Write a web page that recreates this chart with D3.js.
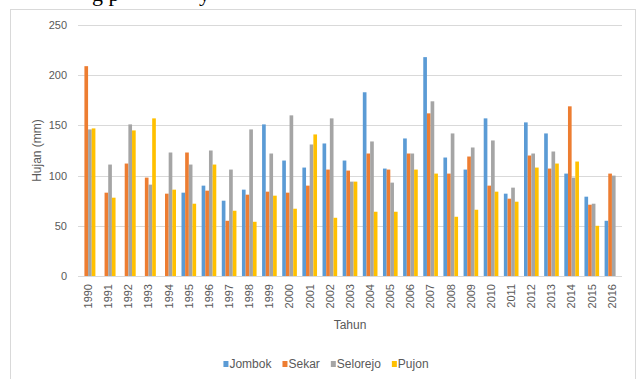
<!DOCTYPE html>
<html>
<head>
<meta charset="utf-8">
<script src="https://cdn.jsdelivr.net/npm/d3@7/dist/d3.min.js"></script>
<style>
  html, body { margin: 0; padding: 0; background: #fff; }
  svg { display: block; }
  text { font-family: "Liberation Sans", Arial, sans-serif; fill: #595959; }
</style>
</head>
<body>
<svg id="chart" width="638" height="379"></svg>
<script>
// Annual rainfall per station, 1990–2016 (null = no record)
const years = ["1990","1991","1992","1993","1994","1995","1996","1997","1998","1999",
  "2000","2001","2002","2003","2004","2005","2006","2007","2008","2009",
  "2010","2011","2012","2013","2014","2015","2016"];
const seriesNames = ["Jombok", "Sekar", "Selorejo", "Pujon"];
const jombok   = [null,null,null,null,null,83,90,75,86,151,115,108,132,115,183,107,137,218,118,106,157,82,153,142,102,79,55];
const sekar    = [209,83,112,98,82,123,85,55,81,84,83,90,106,105,122,106,122,162,102,119,90,77,120,107,169,71,102];
const selorejo = [146,111,151,91,123,111,125,106,146,122,160,131,157,94,134,93,122,174,142,128,135,88,122,124,98,72,100];
const pujon    = [147,78,145,157,86,72,111,65,54,80,67,141,58,94,64,64,106,102,59,66,84,74,108,112,114,50,null];
const yTicks = [0, 50, 100, 150, 200, 250];
const colors = ["#5B9BD5", "#ED7D31", "#A5A5A5", "#FFC000"];

const seriesValues = [jombok, sekar, selorejo, pujon];
const rows = years.map((yr, i) => ({
  year: yr,
  vals: seriesNames.map((name, s) => ({ name, s, v: seriesValues[s][i] }))
}));

const svg = d3.select("#chart");
const plot = { left: 78, right: 622, top: 25, bottom: 276 };

// outer frame of the chart area (bottom edge runs past the page)
svg.append("rect")
  .attr("x", 10.5).attr("y", 9.5)
  .attr("width", 625).attr("height", 400)
  .attr("fill", "#fff").attr("stroke", "#D9D9D9").attr("stroke-width", 1);

// partial caption line above the frame
svg.append("text").attr("x", 92).attr("y", 1)
  .style("font-family", "'Liberation Serif', 'Times New Roman', serif")
  .style("font-size", "22px").style("fill", "#000").text("g p");
svg.append("text").attr("x", 199).attr("y", 1)
  .style("font-family", "'Liberation Serif', 'Times New Roman', serif")
  .style("font-size", "22px").style("fill", "#000").text("y");

const y = d3.scaleLinear().domain([0, 250]).range([plot.bottom, plot.top]);
const gap = 1.5; // gap width relative to one bar
const x0 = d3.scaleBand().domain(years).range([plot.left, plot.right])
  .paddingInner(gap / (seriesNames.length + gap))
  .paddingOuter(gap / (seriesNames.length + gap) / 2);
const x1 = d3.scaleBand().domain(seriesNames).range([0, x0.bandwidth()]).padding(0);

// gridlines
svg.append("g").selectAll("line").data(yTicks).join("line")
  .attr("x1", plot.left).attr("x2", plot.right)
  .attr("y1", d => Math.round(y(d)) + 0.5).attr("y2", d => Math.round(y(d)) + 0.5)
  .attr("stroke", "#D9D9D9").attr("stroke-width", 1);

// y axis labels
const yAxis = svg.append("g").attr("transform", `translate(${plot.left - 11},0)`)
  .call(d3.axisLeft(y).tickValues(yTicks).tickSize(0).tickPadding(0));
yAxis.select(".domain").remove();
yAxis.selectAll("text").style("font-size", "11px").style("fill", "#595959")
  .style("font-family", "'Liberation Sans', Arial, sans-serif");

// bars
svg.append("g").selectAll("g").data(rows).join("g")
  .attr("transform", d => `translate(${x0(d.year)},0)`)
  .selectAll("rect").data(d => d.vals.filter(v => v.v != null)).join("rect")
  .attr("x", d => x1(d.name))
  .attr("width", x1.bandwidth())
  .attr("y", d => y(d.v))
  .attr("height", d => y(0) - y(d.v))
  .attr("fill", d => colors[d.s]);

// x axis labels, rotated
const xAxis = svg.append("g").attr("transform", `translate(0,${plot.bottom})`)
  .call(d3.axisBottom(x0).tickSize(0).tickPadding(0));
xAxis.select(".domain").remove();
xAxis.selectAll("text")
  .attr("transform", "rotate(-90)")
  .attr("x", -8).attr("y", 0).attr("dy", "0.35em")
  .style("text-anchor", "end")
  .style("font-size", "11px").style("fill", "#595959")
  .style("font-family", "'Liberation Sans', Arial, sans-serif");

// axis titles
svg.append("text")
  .attr("x", (plot.left + plot.right) / 2).attr("y", 329)
  .attr("text-anchor", "middle").style("font-size", "12px").text("Tahun");
svg.append("text")
  .attr("transform", `translate(41,${(plot.top + plot.bottom) / 2}) rotate(-90)`)
  .attr("text-anchor", "middle").style("font-size", "12px").text("Hujan (mm)");

// legend
const legend = svg.append("g");
let lx = 0;
seriesNames.forEach((name, s) => {
  const g = legend.append("g").attr("transform", `translate(${lx},0)`);
  g.append("rect").attr("x", 0).attr("y", -3).attr("width", 5).attr("height", 6)
    .attr("fill", colors[s]);
  const t = g.append("text").attr("x", 6).attr("y", 0).attr("dy", "0.35em")
    .style("font-size", "12px").text(name);
  lx += 6 + t.node().getComputedTextLength() + 11;
});
const legendWidth = lx - 11;
legend.attr("transform", `translate(${326 - legendWidth / 2},364)`);
</script>
</body>
</html>
